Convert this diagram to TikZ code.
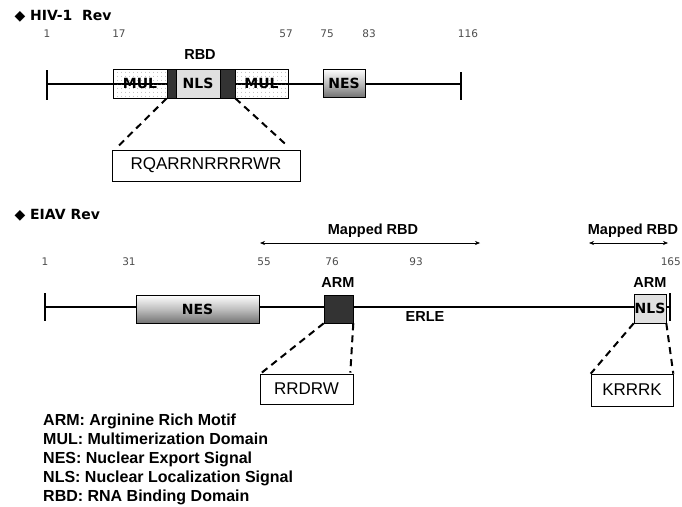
\documentclass[tikz,border=0pt]{standalone}
\usepackage{fontspec}
\setmainfont{Liberation Sans}
\newfontfamily\verd{DejaVu Sans}
\usetikzlibrary{arrows.meta, patterns.meta, shadings}

\tikzdeclarepattern{
  name=muldots,
  type=uncolored,
  bottom left={(0pt,0pt)},
  top right={(4pt,4pt)},
  tile size={(4pt,4pt)},
  code={\fill (2pt,2pt) circle (0.45pt);}
}

\begin{document}
\begin{tikzpicture}[x=1pt, y=-1pt,
  every node/.style={font=\bfseries\fontsize{14.5}{16}\selectfont},
  title/.style={anchor=west, font=\verd\bfseries\fontsize{14}{16}\selectfont},
  num/.style={font=\verd\fontsize{10.5}{12}\selectfont, text=black!70},
  seg/.style={draw, line width=0.6pt, inner sep=0pt,
              font=\verd\bfseries\fontsize{14}{16}\selectfont},
  mul/.style={seg, pattern=muldots, pattern color=black!55},
  blk/.style={seg, fill=black!80},
  nls/.style={seg, fill=black!12},
  nes/.style={seg, top color=white, bottom color=black!55, middle color=black!25},
  seqbox/.style={draw, line width=0.6pt, inner sep=0pt,
                 font=\fontsize{17}{19}\selectfont},
  backbone/.style={line width=2.2pt},
  tick/.style={line width=2pt},
  zoomline/.style={dashed, line width=2pt, dash pattern=on 7pt off 5pt},
  span/.style={{Stealth[length=5pt,width=4pt]}-{Stealth[length=5pt,width=4pt]}, line width=0.6pt}
]
\useasboundingbox (0,0) rectangle (682,506);

% HIV-1 Rev
\node[title] (htitle) at (11,16) {◆ HIV-1\ \ Rev};
\node[num] (h1) at (47,34) {1};
\node[num] (h17) at (119,34) {17};
\node[num] (h57) at (286,34) {57};
\node[num] (h75) at (327,34) {75};
\node[num] (h83) at (369,34) {83};
\node[num] (h116) at (468,34) {116};

\coordinate (hstart) at (47,84);
\coordinate (hend) at (461,84);
\draw[backbone] (hstart) -- (hend);
\draw[tick] (47,70) -- (hstart) -- (47,100);
\draw[tick] (461,72) -- (hend) -- (461,100);

\node[mul, minimum width=54pt, minimum height=29pt] (mula) at (140,83.5) {MUL};
\node[blk, minimum width=9pt, minimum height=29pt] (blka) at (171.5,83.5) {};
\node[nls, minimum width=44pt, minimum height=29pt] (nlsa) at (198,83.5) {NLS};
\node[blk, minimum width=15pt, minimum height=29pt] (blkb) at (227.5,83.5) {};
\node[mul, minimum width=53pt, minimum height=29pt] (mulb) at (261.5,83.5) {MUL};
\node (rbd) at (200,55) {RBD};
\node[nes, minimum width=42pt, minimum height=28pt] (nesa) at (344,83) {NES};

\node[seqbox, minimum width=188pt, minimum height=31pt] (seqa) at (206,165.5) {RQARRNRRRRWR};
\draw[zoomline] (blka.south west) -- ([xshift=6pt,yshift=3pt]seqa.north west);
\draw[zoomline] (blkb.south east) -- ([xshift=-12pt,yshift=3pt]seqa.north east);

% EIAV Rev
\node[title] (etitle) at (11,215) {◆ EIAV Rev};
\coordinate (mal) at (260,243);
\coordinate (mar) at (480,243);
\draw[span] (mal) -- (mar);
\node (mapa) at (373,231) {Mapped RBD};
\coordinate (mbl) at (589,243);
\coordinate (mbr) at (668,243);
\draw[span] (mbl) -- (mbr);
\node (mapb) at (633,231) {Mapped RBD};

\node[num] (e1) at (45,262) {1};
\node[num] (e31) at (129,262) {31};
\node[num] (e55) at (264,262) {55};
\node[num] (e76) at (332,262) {76};
\node[num] (e93) at (416,262) {93};
\node[num, anchor=east, inner sep=1pt] (e165) at (682,262) {165};

\coordinate (estart) at (45,307);
\coordinate (eend) at (670,307);
\draw[backbone] (estart) -- (eend);
\draw[tick] (45,293) -- (estart) -- (45,321);
\draw[tick] (670,293) -- (eend) -- (670,321);

\node[nes, minimum width=123pt, minimum height=28pt] (nesb) at (197.5,309) {NES};
\node[blk, minimum width=29pt, minimum height=28pt] (arma) at (338.5,309) {};
\node (armla) at (338,283) {ARM};
\node (erle) at (425,317) {ERLE};
\node[nls, minimum width=32pt, minimum height=29pt] (nlsb) at (650,308.5) {NLS};
\node (armlb) at (650,283) {ARM};

\node[seqbox, minimum width=93pt, minimum height=30pt] (seqb) at (306.5,389) {RRDRW};
\node[seqbox, minimum width=82pt, minimum height=32pt] (seqc) at (632,390) {KRRRK};
\draw[zoomline] (arma.south west) -- ([xshift=2pt,yshift=1pt]seqb.north west);
\draw[zoomline] (arma.south east) -- ([xshift=-3pt,yshift=1pt]seqb.north east);
\draw[zoomline] (nlsb.south west) -- (seqc.north west);
\draw[zoomline] (nlsb.south east) -- (seqc.north east);

% legend
\node[anchor=north west, align=left, inner sep=0pt,
      font=\bfseries\fontsize{16}{18.8}\selectfont] (legend) at (43,414)
  {ARM: Arginine Rich Motif\\
   MUL: Multimerization Domain\\
   NES: Nuclear Export Signal\\
   NLS: Nuclear Localization Signal\\
   RBD: RNA Binding Domain};

\end{tikzpicture}
\end{document}
